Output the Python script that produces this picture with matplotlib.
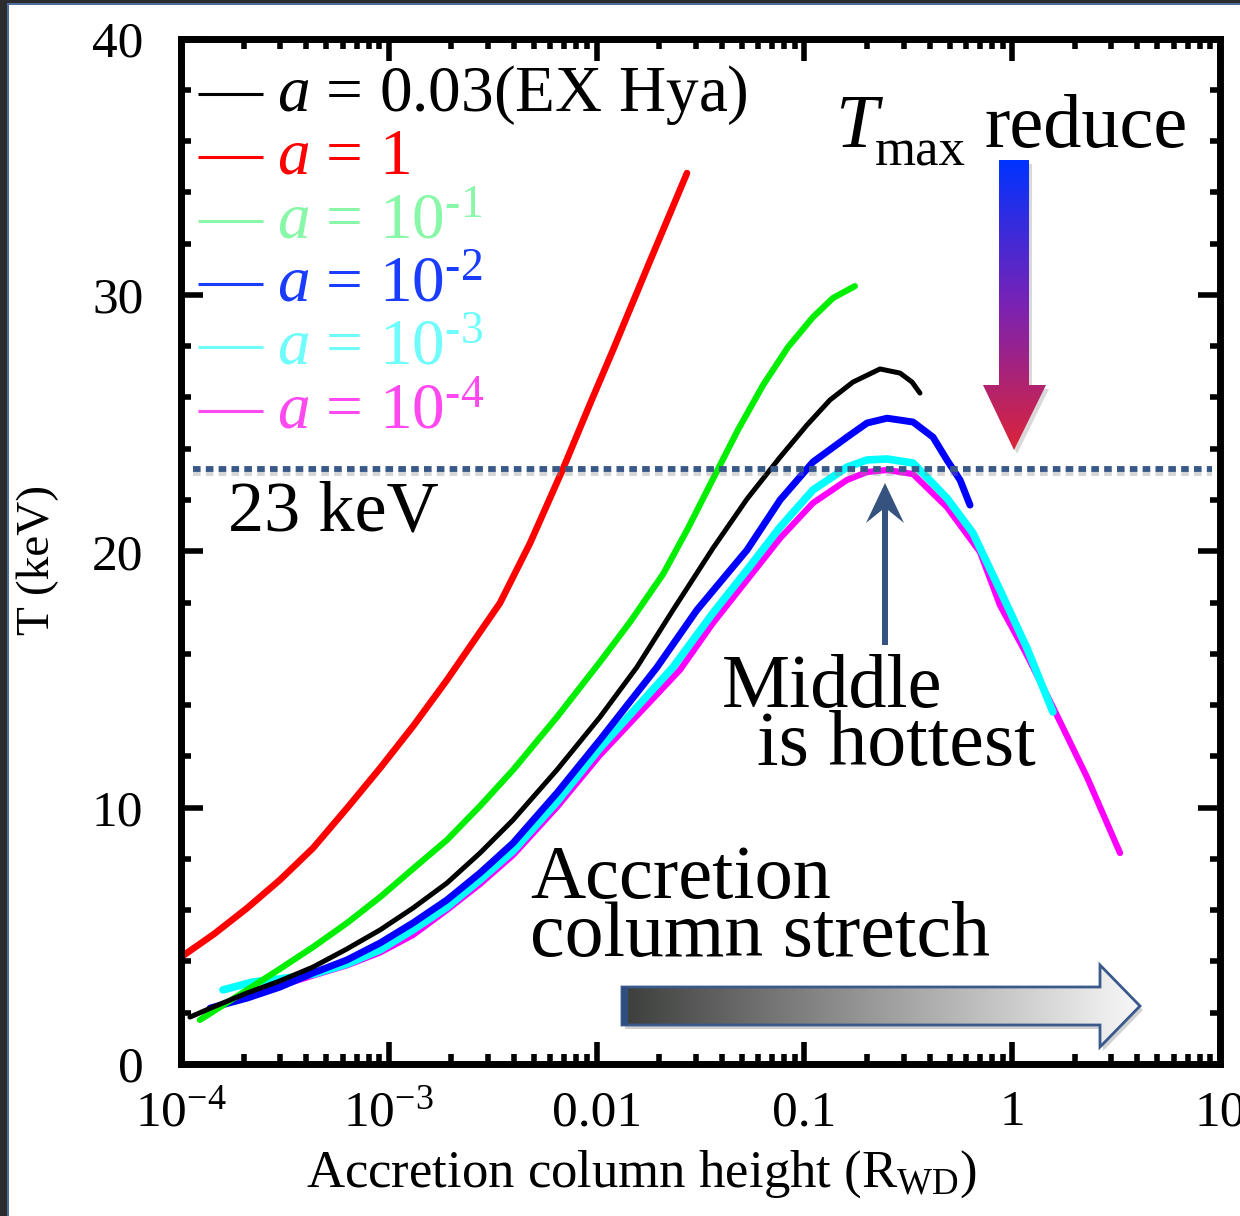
import numpy as np
import matplotlib
matplotlib.use("Agg")
import matplotlib.pyplot as plt
from matplotlib.patches import Polygon, Rectangle
from matplotlib.colors import LinearSegmentedColormap
import matplotlib.patheffects as pe

plt.rcParams['font.family'] = ['Liberation Serif', 'DejaVu Serif']
plt.rcParams['mathtext.fontset'] = 'custom'
plt.rcParams['mathtext.rm'] = 'Liberation Serif'
plt.rcParams['mathtext.it'] = 'Liberation Serif:italic'
plt.rcParams['mathtext.bf'] = 'Liberation Serif:bold'

W, H = 1240, 1216

# log10 of column height (R_WD) and temperature (keV)
red_logx = [-4.000, -3.841, -3.682, -3.524, -3.365, -3.201, -3.042, -2.879, -2.720,
            -2.561, -2.465, -2.320, -2.162, -2.032, -1.921, -1.743, -1.565]
red_T = [4.17, 5.07, 6.08, 7.18, 8.42, 9.98, 11.54, 13.22, 14.98, 16.85, 17.98,
         20.32, 23.21, 25.74, 27.85, 31.32, 34.75]

green_logx = [-3.909, -3.682, -3.524, -3.365, -3.201, -3.042, -2.884, -2.720, -2.561,
              -2.402, -2.191, -1.984, -1.839, -1.680, -1.560, -1.440, -1.320, -1.199,
              -1.079, -0.959, -0.862, -0.757]
green_T = [1.72, 2.89, 3.71, 4.56, 5.50, 6.51, 7.61, 8.74, 10.06, 11.47, 13.53, 15.68,
           17.24, 19.11, 20.90, 22.82, 24.73, 26.48, 27.96, 29.13, 29.88, 30.34]

black_logx = [-3.957, -3.846, -3.682, -3.524, -3.365, -3.201, -3.042, -2.884, -2.720,
              -2.561, -2.402, -2.191, -1.984, -1.806, -1.632, -1.440, -1.276, -1.117,
              -0.988, -0.877, -0.766, -0.636, -0.540, -0.482, -0.444]
black_T = [1.83, 2.22, 2.77, 3.24, 3.78, 4.49, 5.23, 6.08, 7.06, 8.23, 9.52, 11.47,
           13.53, 15.48, 17.71, 20.12, 22.04, 23.67, 24.92, 25.90, 26.60, 27.11, 26.95,
           26.60, 26.17]

blue_logx = [-3.860, -3.682, -3.524, -3.365, -3.201, -3.042, -2.884, -2.720, -2.561,
             -2.402, -2.191, -1.984, -1.709, -1.517, -1.276, -1.117, -0.959, -0.795,
             -0.699, -0.602, -0.477, -0.381, -0.314, -0.251, -0.203]
blue_T = [2.18, 2.57, 3.00, 3.55, 4.06, 4.72, 5.50, 6.40, 7.45, 8.62, 10.57, 12.64,
          15.48, 17.71, 20.05, 22.00, 23.48, 24.45, 25.00, 25.19, 25.04, 24.45, 23.56,
          22.78, 21.80]

cyan_logx = [-3.798, -3.654, -3.524, -3.365, -3.201, -3.042, -2.884, -2.720, -2.561,
             -2.402, -2.191, -1.984, -1.632, -1.440, -1.276, -1.117, -0.959, -0.795,
             -0.699, -0.602, -0.477, -0.314, -0.189, -0.059, 0.071, 0.196]
cyan_T = [2.89, 3.20, 3.32, 3.50, 3.90, 4.45, 5.23, 6.12, 7.18, 8.31, 10.22, 12.32,
          15.48, 17.59, 19.27, 20.94, 22.39, 23.28, 23.56, 23.60, 23.44, 22.07, 20.71,
          18.49, 16.22, 13.73]

magenta_logx = [-3.764, -3.524, -3.365, -3.201, -3.042, -2.884, -2.720, -2.561, -2.402,
                -2.191, -1.984, -1.599, -1.440, -1.276, -1.117, -0.959, -0.795, -0.699,
                -0.602, -0.477, -0.314, -0.155, -0.059, 0.071, 0.196, 0.360, 0.519]
magenta_T = [2.40, 3.05, 3.45, 3.85, 4.35, 5.03, 6.01, 7.02, 8.15, 10.02, 12.05, 15.37,
             17.20, 18.88, 20.51, 21.88, 22.78, 23.09, 23.17, 23.01, 21.72, 19.97, 17.90,
             15.95, 13.92, 11.19, 8.23]

line_T = 23.2

legend_labels = [r'$a$ = 0.03(EX Hya)', r'$a$ = 1', r'$a$ = 10$^{\text{-1}}$',
                 r'$a$ = 10$^{\text{-2}}$', r'$a$ = 10$^{\text{-3}}$',
                 r'$a$ = 10$^{\text{-4}}$']
legend_colors = ['#000000', '#ff0000', '#88f8a8', '#1a3cff', '#6ffcfc', '#ff48f0']

xtick_vals = [1e-4, 1e-3, 1e-2, 1e-1, 1, 10]
xtick_labels = [r'$\mathregular{10^{-4}}$', r'$\mathregular{10^{-3}}$', '0.01', '0.1', '1', '10']

fig = plt.figure(figsize=(W / 100, H / 100), dpi=100)
ax = fig.add_axes([181 / W, 1 - 1064 / H, 1039 / W, 1025.5 / H])

curves = [
    (magenta_logx, magenta_T, '#ff00ff', 4.5),
    (cyan_logx, cyan_T, '#00ffff', 5.5),
    (blue_logx, blue_T, '#0000ff', 5.0),
    (green_logx, green_T, '#00ee00', 4.5),
    (black_logx, black_T, '#000000', 3.6),
    (red_logx, red_T, '#ff0000', 4.8),
]
for lx, t, c, lw in curves:
    ax.plot(10 ** np.array(lx), t, color=c, lw=lw, solid_capstyle='round',
            solid_joinstyle='round')

ax.set_xscale('log')
ax.set_xlim(1e-4, 10)
ax.set_ylim(0, 40)

# dotted 23 keV line with soft shadow
ax.axhline(line_T, xmin=12 / 1039, xmax=1031 / 1039, color='#385888', lw=4.2,
           linestyle=(0, (1.3, 0.9)), dash_capstyle='butt',
           path_effects=[pe.SimpleLineShadow(offset=(0, -3), shadow_color='#888888', alpha=0.35),
                         pe.Normal()])

for s in ax.spines.values():
    s.set_linewidth(5)
ax.set_xticks(xtick_vals)
ax.set_xticklabels(xtick_labels)
ax.set_yticks([0, 10, 20, 30, 40])
ax.set_yticks(np.arange(0, 41, 2), minor=True)
ax.tick_params(which='both', direction='in', top=True, right=True, width=4)
ax.tick_params(which='major', length=16)
ax.tick_params(which='minor', length=7.5)
ax.tick_params(axis='y', labelsize=37, pad=27)
ax.tick_params(axis='x', labelsize=37, pad=44)
for lbl in ax.get_xticklabels():
    lbl.set_va('baseline')

ax.set_ylabel('T (keV)', fontsize=34)
ax.yaxis.label.set_va('center')
ax.yaxis.set_label_coords(-0.1376, 0.4915)
ax.set_xlabel(r'Accretion column height (R$_{\mathregular{WD}}$)', fontsize=38)
ax.xaxis.label.set_va('baseline')
ax.xaxis.set_label_coords(0.4427, -0.12)

# overlay in pixel coordinates for annotations
ov = fig.add_axes([0, 0, 1, 1], zorder=5)
ov.patch.set_alpha(0)
ov.axis('off')


def fx(x):
    return x / W


def fy(y):
    return 1 - y / H


# legend
rows_y = [94, 157, 221, 284, 347, 411]
for yy, lab, col in zip(rows_y, legend_labels, legend_colors):
    ov.plot([198, 263], [yy, yy], color=col, lw=2.2, solid_capstyle='butt')
    ov.text(277, yy + 17, lab, color=col, fontsize=47, va='baseline', ha='left')

ov.text(228, 530, '23 keV', fontsize=52, va='baseline', ha='left')
ov.text(835, 147, r'$T$', fontsize=55, va='baseline', ha='left')
ov.text(875, 165, 'max', fontsize=38, va='baseline', ha='left')
ov.text(985, 147, 'reduce', fontsize=55, va='baseline', ha='left')
ov.text(722, 707, 'Middle', fontsize=55, va='baseline', ha='left')
ov.text(757, 765, 'is hottest', fontsize=56, va='baseline', ha='left')
ov.text(530, 898, 'Accretion', fontsize=55, va='baseline', ha='left')
ov.text(530, 956, 'column stretch', fontsize=56, va='baseline', ha='left')

# gradient down arrow
down_pts = [(999, 160), (1029, 160), (1029, 385), (1046, 385), (1014, 450),
            (983, 385), (999, 385)]
shadow = Polygon([(x + 3, y + 4) for x, y in down_pts], closed=True,
                 facecolor='#000000', alpha=0.15, edgecolor='none')
ov.add_patch(shadow)
down_poly = Polygon(down_pts, closed=True, facecolor='none', edgecolor='none')
ov.add_patch(down_poly)
cm_down = LinearSegmentedColormap.from_list('down', ['#0033ff', '#7a22b4', '#dc2438'])
grad_v = np.linspace(0, 1, 256).reshape(-1, 1)
im = ov.imshow(grad_v, extent=(983, 1046, 450, 160), cmap=cm_down, aspect='auto',
               origin='upper', zorder=3)
im.set_clip_path(down_poly)

# gradient right arrow
right_pts = [(622, 987), (1100, 987), (1100, 965), (1140, 1006), (1100, 1047),
             (1100, 1025), (622, 1025)]
shadow2 = Polygon([(x + 3, y + 4) for x, y in right_pts], closed=True,
                  facecolor='#000000', alpha=0.18, edgecolor='none')
ov.add_patch(shadow2)
right_poly = Polygon(right_pts, closed=True, facecolor='none', edgecolor='none')
ov.add_patch(right_poly)
cm_right = LinearSegmentedColormap.from_list('right', ['#3c3e3c', '#9c9c9c', '#f8f8f8'])
grad_h = np.linspace(0, 1, 256).reshape(1, -1)
im2 = ov.imshow(grad_h, extent=(622, 1140, 1047, 965), cmap=cm_right, aspect='auto',
                origin='upper', zorder=3)
im2.set_clip_path(right_poly)
ov.add_patch(Polygon(right_pts, closed=True, facecolor='none', edgecolor='#3a5a8c',
                     lw=2, zorder=4))
ov.add_patch(Rectangle((622, 987), 6, 38, facecolor='#2e4e80', edgecolor='none', zorder=4))

# up arrow
up_pts = [(885, 483), (904, 523), (888, 510), (888, 645), (882, 645), (882, 510), (866, 523)]
ov.add_patch(Polygon(up_pts, closed=True, facecolor='#36537f', edgecolor='none', zorder=4))

ov.set_xlim(0, W)
ov.set_ylim(H, 0)

# screenshot frame at the left and top edges
fig.patches.append(Rectangle((0, 0), fx(7), 1, transform=fig.transFigure,
                             facecolor='#2a2c2e', edgecolor='none', zorder=10))
fig.patches.append(Rectangle((fx(7), 0), fx(2), 1, transform=fig.transFigure,
                             facecolor='#4d6c9c', edgecolor='none', zorder=10))
fig.patches.append(Rectangle((0, fy(3)), 1, 3 / H, transform=fig.transFigure,
                             facecolor='#2a2c2e', edgecolor='none', zorder=10))
fig.patches.append(Rectangle((fx(7), fy(5)), 1, 2 / H, transform=fig.transFigure,
                             facecolor='#4d6c9c', edgecolor='none', zorder=10))

fig.savefig('out.png', dpi=100)
